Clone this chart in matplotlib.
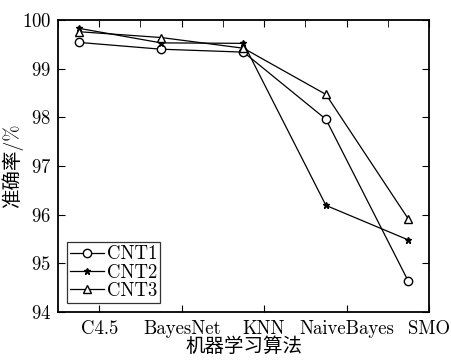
import numpy as np
import matplotlib
matplotlib.use("Agg")
import matplotlib.pyplot as plt
from matplotlib.ticker import MultipleLocator

plt.rcParams["font.family"] = ["cmr10", "Noto Sans CJK SC"]
plt.rcParams["axes.formatter.use_mathtext"] = True
plt.rcParams["mathtext.fontset"] = "cm"

algos = ["C4.5", "BayesNet", "KNN", "NaiveBayes", "SMO"]
cnt1 = [99.54, 99.40, 99.34, 97.96, 94.63]
cnt2 = [99.83, 99.53, 99.52, 96.19, 95.48]
cnt3 = [99.76, 99.64, 99.42, 98.47, 95.91]

# points sit a quarter step left of the tick labels in the original
xs = np.arange(1, len(algos) + 1) - 0.25

fig = plt.figure(figsize=(4.52, 3.6), dpi=100)
ax = fig.add_axes([58 / 452, 1 - 312 / 360, 371 / 452, 292 / 360])

ax.plot(xs, cnt1, "k-", marker="o", mfc="white", mec="k", ms=6, lw=0.9, label="CNT1")
ax.plot(xs, cnt2, "k-", marker="*", mfc="k", mec="k", ms=5, lw=0.9, label="CNT2")
ax.plot(xs, cnt3, "k-", marker="^", mfc="white", mec="k", ms=6, lw=0.9, label="CNT3")

ax.set_xlim(0.5, 5)
ax.set_ylim(94, 100)
ax.set_xticks(range(1, 6))
ax.set_xticklabels(algos)
ax.xaxis.set_minor_locator(MultipleLocator(0.5))
ax.set_yticks(range(94, 101))

ax.tick_params(which="both", direction="in", labelsize=13.5)
ax.tick_params(which="major", top=True, right=True, length=5)
ax.tick_params(axis="x", which="major", pad=6)
ax.tick_params(axis="y", which="major", pad=5)
ax.tick_params(which="minor", bottom=False, top=True, length=5)
for s in ax.spines.values():
    s.set_linewidth(1.3)

ax.set_xlabel("机器学习算法", fontsize=14, labelpad=-1)
ax.set_ylabel("准确率/%", fontsize=14, labelpad=-1)

leg = ax.legend(loc="lower left", fontsize=13.5, fancybox=False, edgecolor="k",
                labelspacing=0.02, borderpad=0.15, handletextpad=0.15,
                handlelength=1.8, borderaxespad=0.5)
leg.get_frame().set_linewidth(0.9)

fig.savefig("out.png", dpi=100)
